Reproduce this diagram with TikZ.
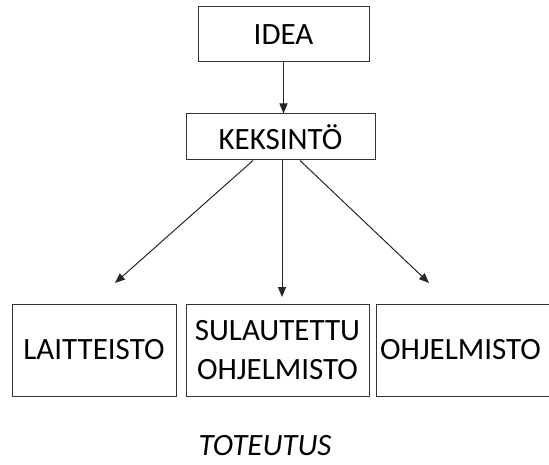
\documentclass[tikz,border=0pt]{standalone}
\usepackage{fontspec}
\setmainfont{Carlito}
\usetikzlibrary{arrows.meta}
\begin{document}
\begin{tikzpicture}[x=1pt,y=-1pt,
  box/.style={draw=black!80,line width=1pt,inner sep=0pt,align=center,font=\fontsize{31}{39}\selectfont},
  conn/.style={draw=black!85,line width=1pt,-{Triangle[length=10pt,width=8pt]}}]
\useasboundingbox (0,0) rectangle (549,465);
\node[box,minimum width=171pt,minimum height=55pt] (idea) at (283.5,34.5) {IDEA};
\node[box,minimum width=189pt,minimum height=46pt] (keks) at (280.5,137) {KEKSINTÖ};
\node[box,minimum width=164pt,minimum height=92pt] (lait) at (94,350) {LAITTEISTO};
\node[box,minimum width=183pt,minimum height=92pt] (sul) at (277.5,350) {SULAUTETTU\\OHJELMISTO};
\node[box,minimum width=190pt,minimum height=92pt,text width=182pt,align=left] (ohj) at (471,350) {OHJELMISTO};
\node[font=\fontsize{31}{36}\selectfont\itshape,inner sep=0pt,anchor=base] (tot) at (265,455) {TOTEUTUS};
\coordinate (la) at (115,283);
\coordinate (ma) at (282,297);
\coordinate (ra) at (429,283);
\draw[conn] (idea.south) -- (idea.south |- keks.north);
\draw[conn] (keks.south -| 253,0) -- (la);
\draw[conn] (keks.south -| ma) -- (ma);
\draw[conn] (keks.south -| 300,0) -- (ra);
\end{tikzpicture}
\end{document}
